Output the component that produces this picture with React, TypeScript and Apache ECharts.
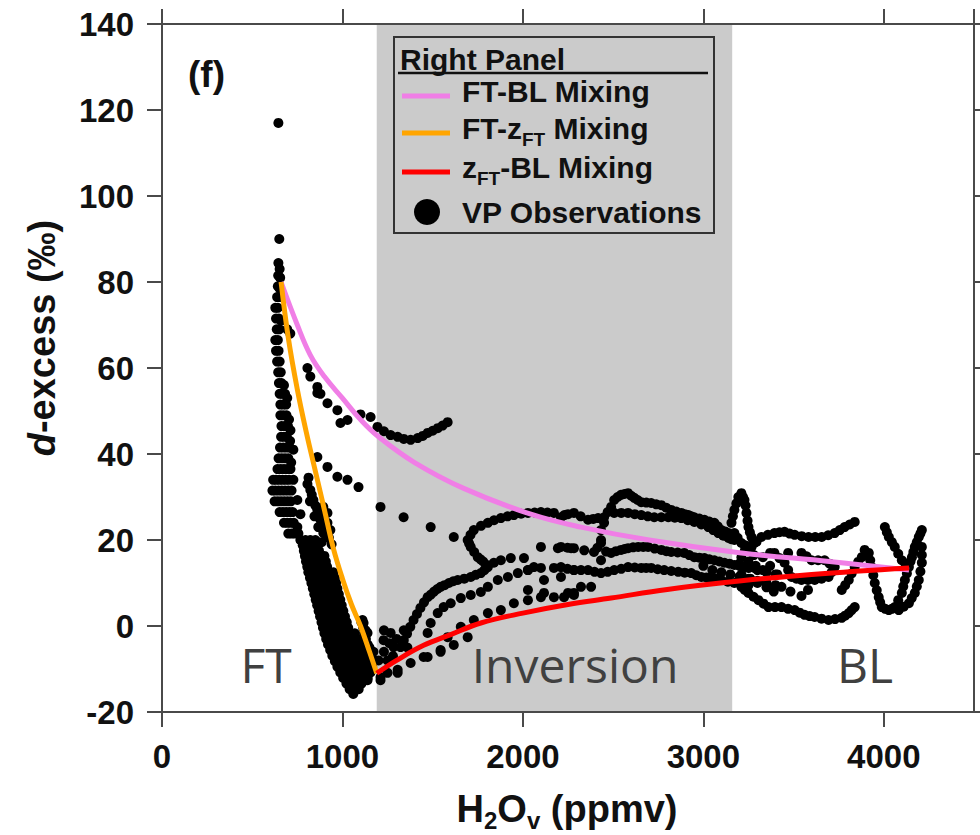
import React, { useEffect, useRef } from "react";
import * as echarts from "echarts";

// ---------- axis ranges ----------
const X_RANGE = [0, 4500];
const X_STEP = 1000;
const Y_RANGE = [-20, 140];
const Y_STEP = 20;
const INVERSION_BAND = [1190, 3160];

// ---------- mixing lines ----------
const ftBlMixing: number[][] = [
  [660, 80], [750, 70], [822, 63], [900, 58], [1000, 53], [1100, 48], [1200, 44],
  [1400, 38], [1672, 32], [2044, 26], [2322, 23], [2700, 20], [3211, 17], [3700, 15], [4140, 13],
];
const ftZftMixing: number[][] = [
  [660, 80], [700, 67], [750, 55], [800, 45], [850, 36], [900, 27], [950, 18],
  [1000, 11], [1050, 5], [1100, 0], [1150, -6], [1190, -11],
];
const zftBlMixing: number[][] = [
  [1190, -11], [1300, -8], [1450, -4.5], [1600, -2], [1767, 0.7], [2000, 3], [2250, 5],
  [2489, 6.5], [2800, 8.5], [3211, 10.5], [3600, 12], [4140, 13.5],
];

// ---------- VP observations ----------
const obsIsolated: number[][] = [[645, 117], [650, 90]];

const obsFtColumn: number[][] = [
  [645, 84.4], [652, 83], [644, 81.5], [655, 81], [642, 79], [652, 78.5], [638, 76.5], [650, 76.5],
  [628, 74], [642, 74], [632, 71.5], [648, 71.5], [660, 71], [636, 69], [650, 69], [694, 69], [711, 68],
  [628, 66.5], [642, 66.5], [632, 64], [646, 64], [638, 61.5], [652, 61.5], [644, 59], [658, 59],
  [648, 56.5], [662, 56.5], [676, 56], [652, 54], [666, 54], [682, 54], [694, 53],
  [656, 51.5], [672, 51.5], [688, 51.5], [656, 49], [672, 49], [690, 49], [704, 48],
  [662, 46.5], [680, 46.5], [698, 46.5], [712, 45.5], [660, 44], [676, 44], [692, 44], [710, 43],
  [654, 41.5], [672, 41.5], [690, 41.5], [708, 41.5], [728, 41], [646, 39], [664, 39], [682, 39],
  [700, 39], [716, 38], [640, 36.5], [658, 36.5], [676, 36.5], [694, 36.5], [712, 36.5],
  [616, 34], [632, 34], [650, 34], [668, 34], [686, 34], [704, 34], [728, 34],
  [612, 31.5], [628, 31.5], [646, 31.5], [664, 31.5], [682, 31.5], [700, 31.5], [718, 31.5],
  [624, 29], [642, 29], [660, 29], [678, 29], [696, 29], [714, 29], [750, 29.3],
  [652, 26.5], [670, 26.5], [688, 26.5], [706, 26.5], [724, 26.5], [767, 26],
  [676, 24], [694, 24], [712, 24], [730, 24], [750, 23], [700, 21.5], [718, 21.5], [736, 21.5], [756, 21.5],
];

const obsSecondBand: number[][] = [
  [806, 33], [812, 34.5], [822, 31.6], [830, 30.5], [839, 29.3], [850, 28], [861, 27], [872, 26],
  [878, 24.7], [894, 27.7], [894, 21.6], [905, 23.5], [917, 26.3], [917, 24], [925, 20.5],
  [933, 22.3], [940, 19], [820, 29], [845, 25.5], [866, 23], [885, 19.5],
];

const obsUpperBranch: number[][] = [
  [806, 60], [822, 58], [861, 55.6], [878, 54], [861, 54.2], [917, 51.8], [972, 50.2], [989, 47.2],
  [1028, 47.9], [1100, 49.2], [1156, 48.6], [1194, 46.3], [1230, 45.3], [1267, 44.4], [1306, 44],
  [1340, 43.5], [1378, 43.3], [1417, 43.7], [1445, 44.2], [1472, 44.9], [1500, 45.4], [1528, 46],
  [1555, 46.6], [1583, 47.4],
];

const obsDiagonal: number[][] = [
  [861, 39.3], [917, 37], [972, 34.7], [1028, 34], [1089, 32.3], [1211, 27.7], [1339, 25.3],
  [1489, 23], [1617, 20.7],
];

const obsMainBand: number[][] = [
  [767, 20], [795, 20], [822, 20], [850, 20],
  [780, 18.8], [808, 18.8], [836, 18.8], [864, 18.8],
  [786, 17.5], [814, 17.5], [842, 17.5], [870, 17.5],
  [792, 16.3], [820, 16.3], [848, 16.3], [876, 16.3], [900, 16.3],
  [798, 15], [826, 15], [854, 15], [882, 15], [908, 15],
  [805, 13.8], [833, 13.8], [861, 13.8], [889, 13.8], [915, 13.8],
  [811, 12.5], [839, 12.5], [867, 12.5], [895, 12.5], [922, 12.5], [950, 12.5],
  [820, 11.2], [848, 11.2], [876, 11.2], [904, 11.2], [932, 11.2], [958, 11.2],
  [828, 10], [856, 10], [884, 10], [912, 10], [940, 10], [965, 10],
  [836, 8.7], [864, 8.7], [892, 8.7], [920, 8.7], [948, 8.7], [972, 8.7],
  [844, 7.4], [872, 7.4], [900, 7.4], [928, 7.4], [956, 7.4], [980, 7.4],
  [852, 6.1], [880, 6.1], [908, 6.1], [936, 6.1], [964, 6.1], [988, 6.1],
  [860, 4.8], [888, 4.8], [916, 4.8], [944, 4.8], [972, 4.8], [996, 4.8],
  [868, 3.5], [896, 3.5], [924, 3.5], [952, 3.5], [980, 3.5], [1005, 3.5],
  [876, 2.2], [904, 2.2], [932, 2.2], [960, 2.2], [988, 2.2], [1014, 2.2],
  [884, 0.9], [912, 0.9], [940, 0.9], [968, 0.9], [996, 0.9], [1024, 0.9], [1105, 0.9],
  [892, -0.4], [920, -0.4], [948, -0.4], [976, -0.4], [1004, -0.4], [1032, -0.4], [1115, -0.4],
  [900, -1.7], [928, -1.7], [956, -1.7], [984, -1.7], [1012, -1.7], [1040, -1.7], [1068, -1.7], [1120, -1.7],
  [910, -3], [938, -3], [966, -3], [994, -3], [1022, -3], [1050, -3], [1078, -3], [1106, -3], [1130, -3],
  [920, -4.3], [948, -4.3], [976, -4.3], [1004, -4.3], [1032, -4.3], [1060, -4.3], [1088, -4.3], [1116, -4.3], [1140, -4.3],
  [932, -5.6], [960, -5.6], [988, -5.6], [1016, -5.6], [1044, -5.6], [1072, -5.6], [1100, -5.6], [1128, -5.6], [1150, -5.6],
  [944, -6.9], [972, -6.9], [1000, -6.9], [1028, -6.9], [1056, -6.9], [1084, -6.9], [1112, -6.9], [1140, -6.9], [1160, -6.9],
  [958, -8.2], [986, -8.2], [1014, -8.2], [1042, -8.2], [1070, -8.2], [1098, -8.2], [1126, -8.2], [1154, -8.2],
  [972, -9.5], [1000, -9.5], [1028, -9.5], [1056, -9.5], [1084, -9.5], [1112, -9.5], [1140, -9.5], [1165, -9.5],
  [988, -10.8], [1016, -10.8], [1044, -10.8], [1072, -10.8], [1100, -10.8], [1128, -10.8], [1156, -10.8],
  [1004, -12.1], [1032, -12.1], [1060, -12.1], [1088, -12.1], [1116, -12.1], [1140, -12.1],
  [1022, -13.4], [1050, -13.4], [1078, -13.4], [1106, -13.4],
  [1040, -14.7], [1068, -14.7], [1090, -14.7], [1060, -15.8],
];

const obsVertex: number[][] = [
  [1111, 1.4], [1128, -1], [1120, -3], [1150, -5], [1160, -8], [1117, 0.7], [1139, -1.6],
  [1156, -9.5], [1139, -12.6], [1228, -3.3], [1267, -1.6], [1283, -4.9], [1211, -12.6],
  [1250, -10.9], [1306, -10.9], [1172, -6], [1200, -8], [1230, -6], [1250, -8], [1280, -7],
  [1300, -3], [1340, -1], [1360, -5], [1230, -1], [1260, -4],
];

const obsInversionOuter: number[][] = [
  [1322, -4.9], [1340, -3.3], [1358, -1.8], [1376, -0.2], [1394, 1.4], [1413, 2.8], [1432, 4.2],
  [1452, 5.5], [1472, 6.7], [1490, 7.3], [1508, 8], [1526, 8.6], [1544, 9.1], [1566, 9.5],
  [1590, 10], [1614, 10.4], [1639, 10.7], [1675, 11], [1711, 11.4], [1739, 11.9], [1767, 12.3],
  [1787, 13], [1806, 13.7], [1795, 14.3], [1780, 15], [1765, 15.5], [1750, 16], [1730, 17.2],
  [1711, 18.4], [1702, 19.2], [1694, 20], [1710, 21.2], [1728, 22.3], [1768, 23.3], [1806, 24],
  [1840, 24.6], [1878, 25.1], [1915, 25.5], [1950, 25.8], [1990, 26.1], [2028, 26.3], [2065, 26.4],
  [2100, 26.5], [2136, 26.4], [2172, 26.3],
];

const obsInversionInner: number[][] = [
  [1472, -1.6], [1489, 0.7], [1528, 3], [1561, 4.4], [1600, 5.3], [1656, 6.5], [1711, 7.2],
  [1767, 7.9], [1806, 9.1], [1861, 10.7], [1917, 11.4], [1972, 12.3], [2028, 13], [2061, 13.7],
];

const obsAboveRed: number[][] = [
  [1656, -0.2], [1728, 1.4], [1806, 3], [1878, 3.7], [1950, 5.3], [2028, 6], [2100, 6.7],
  [2172, 6.7], [2250, 7.7], [1583, -2.6], [1544, -5.6], [1472, -7.2],
  [1211, -11.9], [1306, -10.2], [1378, -8.6], [1450, -7.2], [1544, -6], [1617, -4.4], [1694, -2.6],
];

const obsInversionMiddle: number[][] = [
  [1839, 14.7], [1878, 15.3], [1933, 15.8], [2006, 15.8], [2028, 13], [2100, 18.4], [2194, 18.1],
  [2267, 18.1], [2100, 13.5], [2172, 13.5], [2211, 11.4], [2283, 13], [2028, 8.4], [2117, 10.7],
  [2117, 7.7], [2228, 6.7], [2283, 7.2], [2322, 9.1], [2378, 9.1], [2283, 7.7],
  [2433, 22.3], [2433, 20], [2450, 24],
];

const obsUpperRidge: number[][] = [
  [2211, 25.3], [2230, 25.8], [2250, 26], [2283, 26.3], [2320, 25.5], [2361, 24.7], [2390, 24.9],
  [2417, 25.1], [2450, 25.3], [2470, 26.5], [2489, 27.7], [2506, 29.3], [2525, 30], [2544, 30.5],
  [2563, 30.7], [2583, 30.9], [2600, 30.3], [2617, 29.8], [2636, 29.3], [2656, 28.8], [2684, 28.7],
  [2711, 28.6], [2739, 28.3], [2767, 28.1], [2795, 27.5], [2822, 27], [2850, 26.6], [2878, 26.3],
  [2897, 26], [2917, 25.8], [2933, 25.5], [2950, 25.3], [2978, 25], [3006, 24.7], [3033, 24.3],
  [3061, 24], [3080, 23.2], [3100, 22.3], [3120, 22], [3139, 21.6], [3156, 24], [3164, 25.5],
  [3172, 27], [3183, 28.5], [3194, 30], [3211, 30.9], [3220, 30], [3228, 29.3], [3234, 28],
  [3239, 26.3], [3245, 24.5], [3250, 23], [3258, 21.8], [3267, 20.7], [3275, 20], [3283, 19.3],
  [3250, 18.4], [3230, 18.8], [3211, 19.3], [3190, 20.5], [3172, 21.6],
  [2506, 26.3], [2545, 26.3], [2583, 26.3], [2620, 26], [2656, 25.8], [2692, 25.5], [2728, 25.3],
  [2767, 25.3], [2806, 25.3], [2842, 25.2], [2878, 25.1], [2914, 24.6], [2950, 24.2], [2989, 23.6],
  [3028, 23], [3055, 22.3], [3083, 21.6], [3111, 21], [3139, 20.5], [3155, 20.2], [3172, 20],
];

const obsMiddleLines: number[][] = [
  [2211, 18.4], [2247, 18.2], [2283, 18.1], [2340, 17.6], [2394, 17.2], [2413, 18.2], [2433, 19.3],
  [2433, 15.3], [2461, 17.3], [2489, 17], [2516, 17.4], [2544, 17.7], [2563, 17.9], [2583, 18.1],
  [2611, 18.3], [2639, 18.4], [2667, 18.4], [2694, 18.4], [2730, 18], [2767, 17.7], [2795, 17.4],
  [2822, 17.2], [2858, 17.1], [2894, 17], [2922, 16.5], [2950, 16], [2978, 15.9], [3006, 15.8],
  [3033, 15.5], [3061, 15.3], [3089, 15], [3117, 14.7], [3145, 14.5], [3172, 14.2], [3200, 14],
  [3228, 13.7], [3256, 13.6], [3283, 13.5],
  [2211, 13.7], [2247, 13.3], [2283, 13], [2322, 13], [2361, 13], [2397, 12.6], [2433, 12.3],
  [2470, 12.6], [2506, 13], [2545, 13.3], [2583, 13.7], [2620, 13.6], [2656, 13.5], [2683, 13.5],
  [2711, 13.5], [2747, 13.2], [2783, 13], [2822, 12.8], [2861, 12.6], [2897, 12.4], [2933, 12.3],
  [2961, 11.8], [2989, 11.4], [3017, 11.3], [3044, 11.2], [3072, 11], [3100, 10.7], [3136, 10.3],
  [3172, 10], [3211, 9.7], [3250, 9.5],
  [3000, 14], [3050, 13], [3100, 12.5], [3150, 12], [3200, 11.5], [3250, 11], [3300, 10.5],
  [3350, 10], [3400, 9.5], [3200, 14.5], [3250, 14], [3300, 13], [3350, 12.5], [3400, 12],
];

const obsBoundaryLayer: number[][] = [
  [3267, 18.4], [3295, 19.6], [3322, 20.7], [3358, 21.2], [3394, 21.6], [3422, 21.8], [3450, 21.9],
  [3478, 21.5], [3506, 21.2], [3545, 20.9], [3583, 20.7], [3620, 20.7], [3656, 20.7], [3692, 21.1],
  [3728, 21.6], [3756, 22.3], [3783, 23], [3811, 23.6], [3839, 24.2],
  [3211, 9.1], [3230, 8.4], [3250, 7.7], [3278, 6.8], [3306, 6], [3334, 5.2], [3361, 4.4],
  [3397, 4.4], [3433, 4.4], [3470, 4], [3506, 3.7], [3534, 3.1], [3561, 2.6], [3589, 2.3],
  [3617, 2.1], [3655, 1.7], [3694, 1.4], [3730, 1.6], [3767, 1.9], [3786, 2.4], [3806, 3],
  [3822, 3.7], [3839, 4.4],
  [3394, 17], [3422, 15.8], [3450, 14.7], [3470, 13], [3489, 11.4], [3516, 11], [3544, 10.7],
  [3580, 10.7], [3617, 10.7], [3655, 11], [3694, 11.4], [3711, 12.5], [3728, 13.7], [3700, 14.5],
  [3672, 15.3], [3636, 15.3], [3600, 15.3], [3572, 16.2], [3544, 17], [3470, 17],
  [3767, 8.4], [3786, 9.5], [3806, 10.7], [3822, 12.2], [3839, 13.7], [3858, 14.9], [3878, 16],
  [3897, 16.5], [3917, 17], [3925, 15.3], [3933, 13.7], [3942, 11.8], [3950, 10], [3961, 8.3],
  [3972, 6.7], [3980, 5.5], [3989, 4.4], [4008, 4], [4028, 3.7], [4045, 4], [4061, 4.4],
  [4080, 6], [4100, 7.7], [4108, 9.2], [4117, 10.7], [4128, 12.2], [4139, 13.7], [4148, 15],
  [4156, 16], [4164, 17.2], [4172, 18.4], [4183, 19.5], [4194, 20.7], [4203, 21.5], [4211, 22.3],
  [4006, 23], [4017, 21.8], [4028, 20.7], [4045, 19.5], [4061, 18.4], [4080, 16.8], [4100, 15.3],
  [4120, 14.5],
  [4211, 18.4], [4211, 16.5], [4211, 14.7], [4203, 12.7], [4194, 10.7], [4183, 9.2], [4172, 7.7],
  [4155, 6.5], [4139, 5.3], [4110, 4.5], [4083, 3.7],
  [3433, 9.1], [3483, 8], [3544, 7], [3580, 8.4], [3211, 16], [3250, 15], [3290, 14], [3330, 13],
  [3211, 12], [3260, 11], [3300, 10], [3350, 9], [3390, 8], [3330, 16], [3370, 17], [3250, 13.5],
  [3894, 17.7], [3230, 17.5], [3280, 16.5], [3370, 14], [3410, 12],
];

const vpObservations: number[][] = [
  ...obsIsolated, ...obsFtColumn, ...obsSecondBand, ...obsUpperBranch, ...obsDiagonal,
  ...obsMainBand, ...obsVertex, ...obsInversionOuter, ...obsInversionInner, ...obsAboveRed,
  ...obsInversionMiddle, ...obsUpperRidge, ...obsMiddleLines, ...obsBoundaryLayer,
];

// ---------- texts ----------
const LEGEND_TITLE = "Right Panel";
const REGION_LABELS = [
  { text: "FT", x: 266 },
  { text: "Inversion", x: 575 },
  { text: "BL", x: 865 },
];

const BOLD = '"Liberation Sans", Arial, sans-serif';
const COL_PINK = "#f07ee6";
const COL_ORANGE = "#ffa500";
const COL_RED = "#ff0000";
const AXIS_COL = "#4a4a4a";

export default function App() {
  const ref = useRef<HTMLDivElement>(null);

  useEffect(() => {
    if (!ref.current) return;
    const chart = echarts.init(ref.current, undefined, { renderer: "svg" });

    const axisCommon = {
      axisLine: { show: true, onZero: false, lineStyle: { color: AXIS_COL, width: 2 } },
      axisTick: { show: true, inside: false, length: 15, lineStyle: { color: AXIS_COL, width: 2 } },
      splitLine: { show: false },
      z: 10,
    };
    const tickLabel = {
      color: "#111",
      fontFamily: BOLD,
      fontWeight: "bold" as const,
      fontSize: 33,
      formatter: (v: number) => String(v),
    };

    const legendSub = {
      fontFamily: BOLD, fontWeight: "bold", fontSize: 19, lineHeight: 19,
      verticalAlign: "bottom", fill: "#111",
    };
    const legendBase = {
      fontFamily: BOLD, fontWeight: "bold", fontSize: 30, lineHeight: 41, fill: "#111",
    };
    const legendTextX = 462;

    const option: any = {
      animation: false,
      backgroundColor: "#ffffff",
      grid: { left: 162, top: 24, width: 812, height: 688 },
      xAxis: [
        {
          type: "value", min: X_RANGE[0], max: X_RANGE[1], interval: X_STEP, position: "bottom",
          ...axisCommon,
          axisLabel: { ...tickLabel, margin: 28, showMaxLabel: false },
        },
        {
          type: "value", min: X_RANGE[0], max: X_RANGE[1], interval: X_STEP, position: "top",
          ...axisCommon,
          axisLabel: { show: false },
        },
      ],
      yAxis: [
        {
          type: "value", min: Y_RANGE[0], max: Y_RANGE[1], interval: Y_STEP, position: "left",
          ...axisCommon,
          axisLabel: { ...tickLabel, margin: 28 },
        },
        {
          type: "value", min: Y_RANGE[0], max: Y_RANGE[1], interval: Y_STEP, position: "right",
          ...axisCommon,
          axisLabel: { show: false },
        },
      ],
      series: [
        {
          name: "Inversion",
          type: "line",
          data: [],
          z: 1,
          silent: true,
          markArea: {
            silent: true,
            itemStyle: { color: "#cbcbcb" },
            data: [[{ xAxis: INVERSION_BAND[0] }, { xAxis: INVERSION_BAND[1] }]],
          },
        },
        {
          name: "VP Observations",
          type: "scatter",
          data: vpObservations,
          symbol: "circle",
          symbolSize: 10,
          itemStyle: { color: "#000000", opacity: 1 },
          z: 3,
        },
        {
          name: "FT-BL Mixing",
          type: "line",
          data: ftBlMixing,
          smooth: 0.4,
          showSymbol: false,
          lineStyle: { color: COL_PINK, width: 5 },
          z: 4,
        },
        {
          name: "FT-zFT Mixing",
          type: "line",
          data: ftZftMixing,
          smooth: 0.4,
          showSymbol: false,
          lineStyle: { color: COL_ORANGE, width: 5 },
          z: 4,
        },
        {
          name: "zFT-BL Mixing",
          type: "line",
          data: zftBlMixing,
          smooth: 0.4,
          showSymbol: false,
          lineStyle: { color: COL_RED, width: 5 },
          z: 5,
        },
      ],
      graphic: [
        {
          type: "text", x: 188, y: 74, z: 100,
          style: { text: "(f)", fontFamily: BOLD, fontWeight: "bold", fontSize: 37, fill: "#111", verticalAlign: "middle" },
        },
        ...REGION_LABELS.map((r) => ({
          type: "text", x: r.x, y: 664, z: 100,
          style: {
            text: r.text, fontFamily: '"Open Sans", sans-serif', fontSize: 48, fill: "#404040",
            align: "center", verticalAlign: "middle",
          },
        })),
        {
          type: "rect", z: 100,
          shape: { x: 394, y: 37, width: 320, height: 196 },
          style: { fill: "none", stroke: "#333", lineWidth: 2 },
        },
        {
          type: "text", x: 400, y: 59, z: 101,
          style: { text: LEGEND_TITLE, fontFamily: BOLD, fontWeight: "bold", fontSize: 30, fill: "#111", verticalAlign: "middle" },
        },
        {
          type: "line", z: 101,
          shape: { x1: 398, y1: 73, x2: 708, y2: 73 },
          style: { stroke: "#111", lineWidth: 2.5 },
        },
        { type: "line", z: 101, shape: { x1: 402, y1: 96, x2: 450, y2: 96 }, style: { stroke: COL_PINK, lineWidth: 5 } },
        { type: "line", z: 101, shape: { x1: 402, y1: 133, x2: 450, y2: 133 }, style: { stroke: COL_ORANGE, lineWidth: 5 } },
        { type: "line", z: 101, shape: { x1: 402, y1: 172, x2: 450, y2: 172 }, style: { stroke: COL_RED, lineWidth: 5 } },
        { type: "circle", z: 101, shape: { cx: 427, cy: 212, r: 13 }, style: { fill: "#000" } },
        {
          type: "text", x: legendTextX, y: 91, z: 101,
          style: { text: "FT-BL Mixing", fontFamily: BOLD, fontWeight: "bold", fontSize: 30, fill: "#111", verticalAlign: "middle" },
        },
        {
          type: "text", x: legendTextX, y: 128, z: 101,
          style: {
            text: "{b|FT-z}{s|FT}{b| Mixing}", verticalAlign: "middle",
            rich: { b: legendBase, s: legendSub },
          },
        },
        {
          type: "text", x: legendTextX, y: 167, z: 101,
          style: {
            text: "{b|z}{s|FT}{b|-BL Mixing}", verticalAlign: "middle",
            rich: { b: legendBase, s: legendSub },
          },
        },
        {
          type: "text", x: legendTextX, y: 212, z: 101,
          style: { text: "VP Observations", fontFamily: BOLD, fontWeight: "bold", fontSize: 30, fill: "#111", verticalAlign: "middle" },
        },
        {
          type: "text", x: 567, y: 809, z: 100,
          style: {
            text: "{b|H}{s|2}{b|O}{s|v}{b| (ppmv)}", align: "center", verticalAlign: "middle",
            rich: {
              b: { fontFamily: BOLD, fontWeight: "bold", fontSize: 38, lineHeight: 46, fill: "#111" },
              s: { fontFamily: BOLD, fontWeight: "bold", fontSize: 24, lineHeight: 24, verticalAlign: "bottom", fill: "#111" },
            },
          },
        },
        {
          type: "text", x: 42, y: 338, z: 100, rotation: Math.PI / 2,
          style: {
            text: "{i|d}{b|-excess (‰)}", align: "center", verticalAlign: "middle",
            rich: {
              i: { fontFamily: BOLD, fontWeight: "bold", fontStyle: "italic", fontSize: 38, fill: "#111" },
              b: { fontFamily: BOLD, fontWeight: "bold", fontSize: 38, fill: "#111" },
            },
          },
        },
      ],
    };

    chart.setOption(option);
    return () => chart.dispose();
  }, []);

  return (
    <div
      ref={ref}
      style={{ position: "fixed", left: 0, top: 0, width: 980, height: 835, background: "#fff" }}
    />
  );
}
